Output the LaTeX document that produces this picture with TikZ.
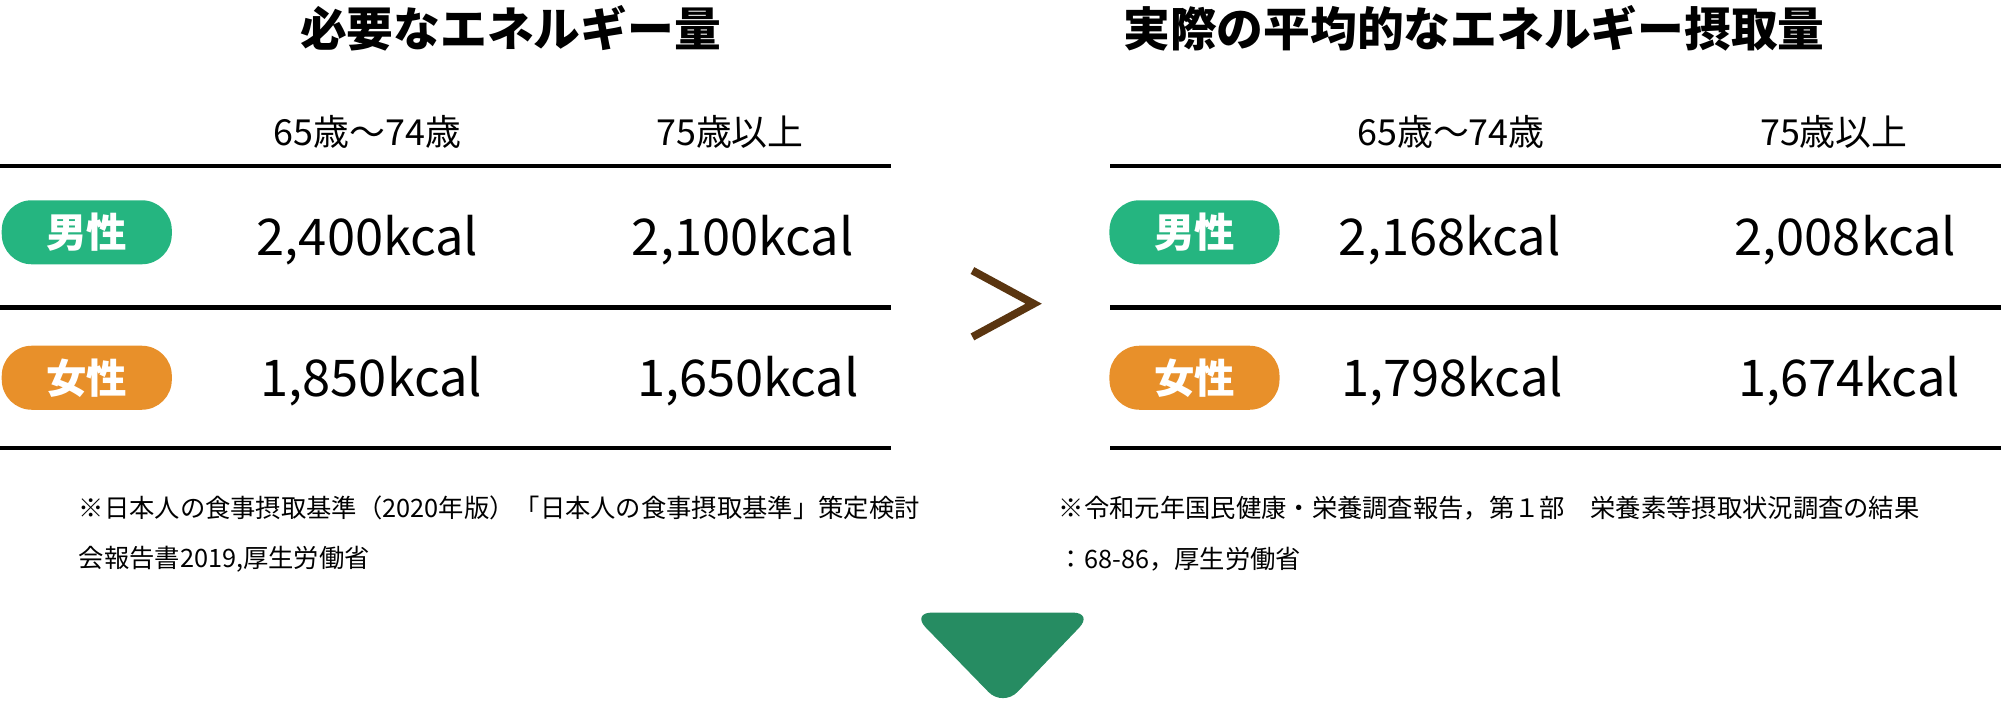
\documentclass[tikz,border=0pt]{standalone}
\usepackage{fontspec}
\setmainfont{Noto Sans CJK JP}
\usetikzlibrary{positioning}
\definecolor{pillgreen}{HTML}{25B580}
\definecolor{pillorange}{HTML}{E8902A}
\definecolor{arrowgreen}{HTML}{268C62}
\definecolor{gtbrown}{HTML}{5A3510}
\tikzset{
  title/.style={font=\fontsize{13.3}{15}\selectfont\bfseries},
  head/.style={font=\fontsize{10.2}{12}\selectfont},
  val/.style={font=\fontsize{14.4}{16}\selectfont},
  note/.style={font=\fontsize{7.2}{9}\selectfont, anchor=west},
  pill/.style={fill=#1, rounded corners=0.3cm, minimum width=1.7cm, minimum height=0.64cm,
    inner sep=0pt, text=white, font=\fontsize{11.5}{13}\selectfont\bfseries},
  rule/.style={line width=1.2pt}
}
\begin{document}
\begin{tikzpicture}[x=0.01276cm, y=-0.01276cm]
  \useasboundingbox (0,0) rectangle (1568,555.6);

  % titles
  \node[title] (tl) at (400,22) {必要なエネルギー量};
  \node[title] (tr) at (1155,22) {実際の平均的なエネルギー摂取量};

  % headers
  \node[head] (hl1) at (288,103) {65歳〜74歳};
  \node[head] (hl2) at (572,103) {75歳以上};
  \node[head] (hr1) at (1137,103) {65歳〜74歳};
  \node[head] (hr2) at (1437,103) {75歳以上};

  % rules
  \foreach \yy in {130,241,351} {
    \draw[rule] (0,\yy) -- (698,\yy);
    \draw[rule] (870,\yy) -- (1568,\yy);
  }

  % left table
  \node[pill=pillgreen] (ml) at (68,182) {男性};
  \node[pill=pillorange] (fl) at (68,296) {女性};
  \node[val] (ml1) at (288,188) {2,400kcal};
  \node[val] (ml2) at (582,188) {2,100kcal};
  \node[val] (fl1) at (291,299) {1,850kcal};
  \node[val] (fl2) at (586,299) {1,650kcal};

  % right table
  \node[pill=pillgreen] (mr) at (936,182) {男性};
  \node[pill=pillorange] (fr) at (936,296) {女性};
  \node[val] (mr1) at (1136,188) {2,168kcal};
  \node[val] (mr2) at (1446,188) {2,008kcal};
  \node[val] (fr1) at (1138,299) {1,798kcal};
  \node[val] (fr2) at (1449,299) {1,674kcal};

  % greater-than sign
  \draw[gtbrown, line width=2.2pt] (762,212) -- (810,238) -- (762,264);

  % notes
  \node[note] (nl1) at (52,398) {※日本人の食事摂取基準（2020年版）「日本人の食事摂取基準」策定検討};
  \node[note] (nl2) at (52,438) {会報告書2019,厚生労働省};
  \node[note] (nr1) at (820,398) {※令和元年国民健康・栄養調査報告，第１部\quad 栄養素等摂取状況調査の結果};
  \node[note] (nr2) at (820,438) {：68-86，厚生労働省};

  % down arrow
  \fill[arrowgreen, rounded corners=6pt] (714,480) -- (857,480) -- (786,554) -- cycle;
\end{tikzpicture}
\end{document}
